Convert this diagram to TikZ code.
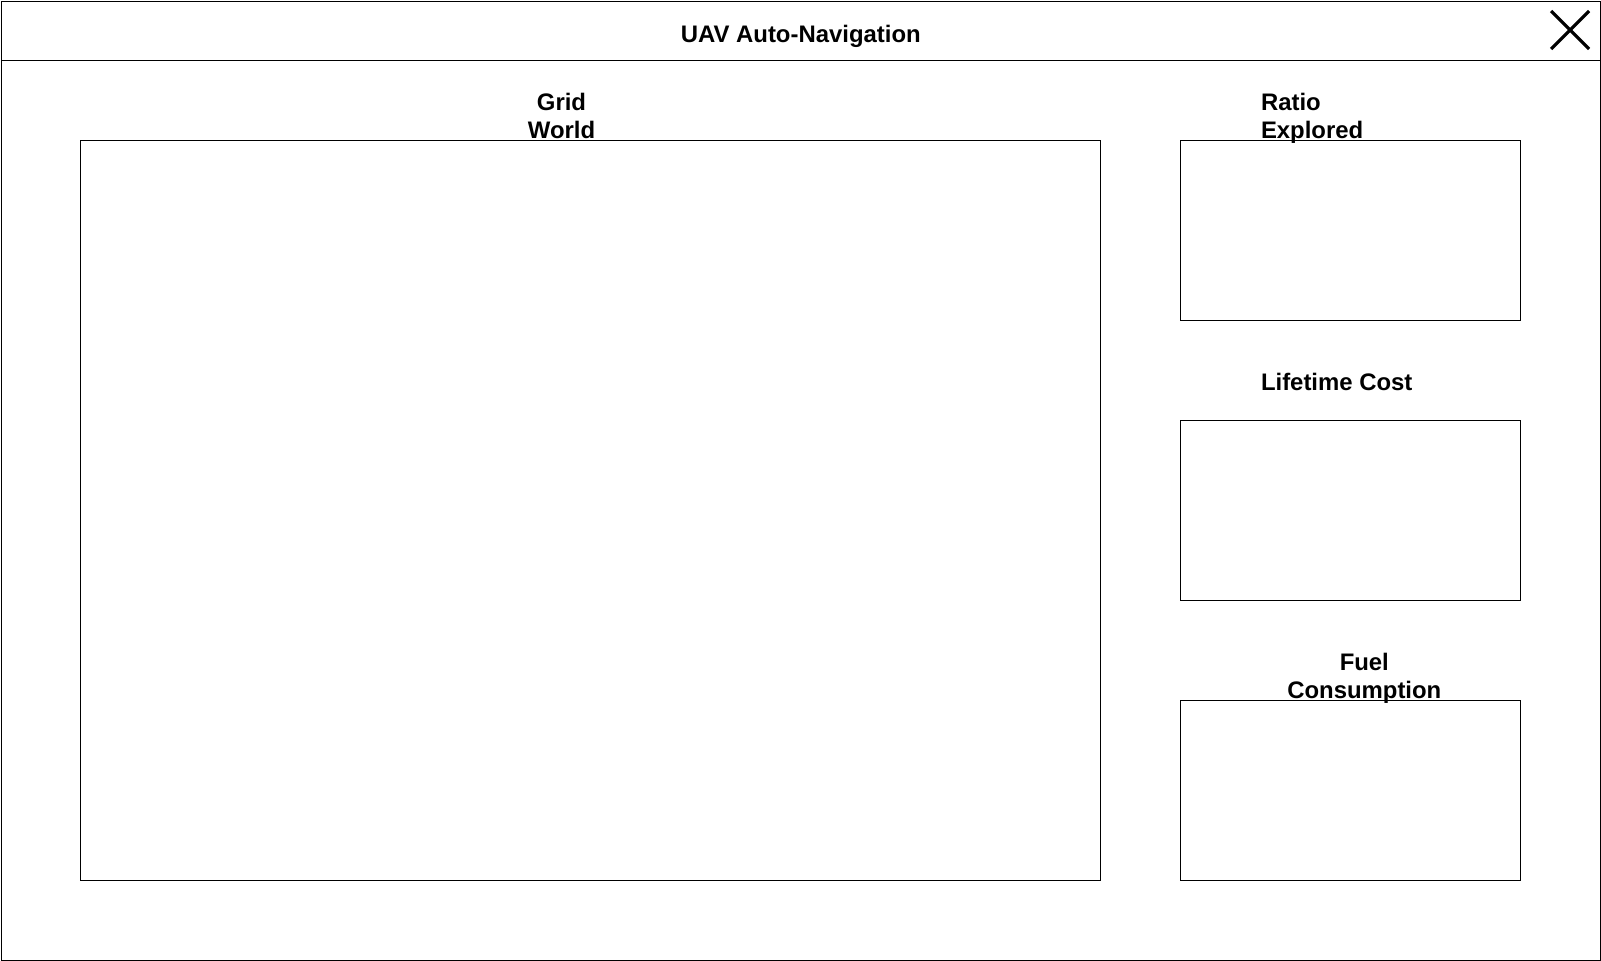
\documentclass[tikz,border=0pt]{standalone}
\usepackage{fontspec}
\setmainfont{Liberation Sans}
\begin{document}
\begin{tikzpicture}[x=1pt,y=-1pt,
  frame/.style={draw=black,line width=1pt,inner sep=0pt,outer sep=0pt},
  lbl/.style={inner sep=0pt,outer sep=0pt,font=\fontsize{23.9}{28}\selectfont\bfseries}]
\useasboundingbox (0,0) rectangle (1601,961);
\fill[white] (0,0) rectangle (1601,961);
% outer window
\node[frame,minimum width=1599pt,minimum height=959pt,anchor=north west] (win) at (1,1) {};
\coordinate (hl) at (1,60);
\coordinate (hr) at (1600,60);
\draw[line width=1pt] (hl) -- (hr);
% close icon
\coordinate (x1) at (1551,11);
\coordinate (x2) at (1589,49);
\coordinate (x3) at (1551,49);
\coordinate (x4) at (1589,11);
\draw[line width=3.2pt] (x1) -- (x2) (x3) -- (x4);
% title
\node[lbl,anchor=base] (title) at (800.8,42) {UAV Auto-Navigation};
% grid world
\node[frame,minimum width=1020pt,minimum height=740pt,anchor=north west] (grid) at (80.5,140.5) {};
\node[lbl,anchor=base] (gridA) at (561.5,110) {Grid};
\node[lbl,anchor=base] (gridB) at (561.5,138.5) {World};
% side panels
\node[frame,minimum width=340pt,minimum height=180pt,anchor=north west] (ratio) at (1180.3,140.5) {};
\node[frame,minimum width=340pt,minimum height=180pt,anchor=north west] (cost) at (1180.3,420.5) {};
\node[frame,minimum width=340pt,minimum height=180pt,anchor=north west] (fuel) at (1180.3,700.3) {};
\node[lbl,anchor=base west] (ratioA) at (1261,110) {Ratio};
\node[lbl,anchor=base west] (ratioB) at (1261,138.5) {Explored};
\node[lbl,anchor=base west] (costA) at (1261,390.5) {Lifetime Cost};
\node[lbl,anchor=base] (fuelA) at (1364.3,670) {Fuel};
\node[lbl,anchor=base] (fuelB) at (1364.3,698.5) {Consumption};
\end{tikzpicture}
\end{document}
